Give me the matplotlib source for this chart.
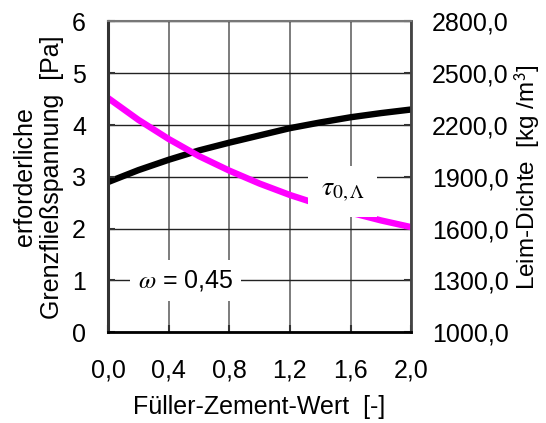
import matplotlib
matplotlib.use("Agg")
import matplotlib.pyplot as plt
from matplotlib.ticker import FuncFormatter

# Plot config
plt.rcParams.update({
    "font.family": "Liberation Sans",
    "font.size": 18,
    "mathtext.fontset": "stix",
})

# Data (x = Füller-Zement-Wert)
fz_wert = [0.0, 0.2, 0.4, 0.6, 0.8, 1.0, 1.2, 1.4, 1.6, 1.8, 2.0]
tau_0 = [4.52, 4.10, 3.73, 3.40, 3.12, 2.87, 2.65, 2.46, 2.31, 2.16, 2.03]
leim_dichte = [1870, 1939, 1999, 2053, 2098, 2140, 2182, 2215, 2245, 2269, 2290]

x_ticks = [0.0, 0.4, 0.8, 1.2, 1.6, 2.0]
y_ticks = [0, 1, 2, 3, 4, 5, 6]
y2_ticks = [1000, 1300, 1600, 1900, 2200, 2500, 2800]

fig = plt.figure(figsize=(5.46, 4.23), dpi=100)
ax1 = fig.add_axes([0.198, 0.2144, 0.555, 0.735])
ax2 = ax1.twinx()

# ax2 sits below (grid + density), ax1 on top (tau + labels)
ax1.set_zorder(ax2.get_zorder() + 1)
ax1.patch.set_visible(False)

ax2.plot(fz_wert, leim_dichte, color="black", linewidth=4.6, solid_capstyle="butt")
ax1.plot(fz_wert, tau_0, color="#ff00ff", linewidth=4.6, solid_capstyle="butt")

ax1.set_xlim(0, 2.0)
ax1.set_ylim(0, 6)
ax2.set_ylim(1000, 2800)
ax1.set_xticks(x_ticks)
ax1.set_yticks(y_ticks)
ax2.set_yticks(y2_ticks)

comma = lambda fmt: FuncFormatter(lambda v, p: (fmt % v).replace(".", ","))
ax1.xaxis.set_major_formatter(comma("%.1f"))
ax2.yaxis.set_major_formatter(comma("%.1f"))

# vertical grid lives on the lower twin too
ax2.xaxis.set_visible(True)
ax2.tick_params(axis="x", labelbottom=False, labeltop=False, bottom=False, top=False)
ax2.yaxis.grid(True, color="#222222", linewidth=1.0)
ax2.xaxis.grid(True, color="#666666", linewidth=1.2)

for s in ax2.spines.values():
    s.set_visible(False)
ax1.spines["left"].set_color("#333333")
ax1.spines["left"].set_linewidth(2.2)
ax1.spines["right"].set_color("#444444")
ax1.spines["right"].set_linewidth(2.0)
ax1.spines["top"].set_color("#777777")
ax1.spines["top"].set_linewidth(1.5)
ax1.spines["bottom"].set_color("black")
ax1.spines["bottom"].set_linewidth(2.0)

ax1.tick_params(axis="both", direction="in", length=5, width=1.5, color="#333333")
ax1.tick_params(axis="x", pad=19)
ax1.tick_params(axis="y", pad=16)
ax2.tick_params(axis="y", direction="in", length=5, width=1.5, color="#333333", pad=15)

ax1.set_xlabel("Füller-Zement-Wert  [-]", labelpad=9)
ax1.set_ylabel("erforderliche\nGrenzfließspannung  [Pa]", labelpad=6, linespacing=1.15)
ax2.set_ylabel("Leim-Dichte  [kg /m$^{\\mathsf{3}}$]", labelpad=3, fontsize=17.5)

ax1.text(0.51, 1.0, r"$\omega$ = 0,45", ha="center", va="center", fontsize=18,
         bbox=dict(facecolor="white", edgecolor="none", pad=6), zorder=5)
ax1.text(1.55, 2.72, r"$\tau_{0,\Lambda}$", ha="center", va="center", fontsize=20,
         bbox=dict(facecolor="white", edgecolor="none", pad=9), zorder=5)

plt.savefig("out.png", dpi=100)
